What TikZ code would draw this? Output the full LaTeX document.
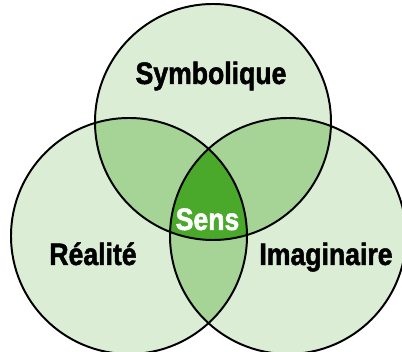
\documentclass[tikz,border=0pt]{standalone}
\usepackage{fontspec}
\setmainfont{Liberation Sans}[FakeStretch=0.88]
\newfontfamily\heavyfont{Liberation Sans}[FakeStretch=0.86, BoldFont={* Bold}, BoldFeatures={FakeBold=1.6}]
\definecolor{pale}{HTML}{DCEDD5}
\definecolor{mid}{HTML}{A6D496}
\definecolor{deep}{HTML}{4AA82A}
\tikzset{
    ring/.style={draw=black, line width=1.4pt},
    word/.style={font=\heavyfont\bfseries\fontsize{22}{24}\selectfont, anchor=base, inner sep=0pt}
}
\begin{document}
\begin{tikzpicture}[x=0.025cm, y=-0.025cm]
    \useasboundingbox (0,0) rectangle (402,352);
    \clip (0,0) rectangle (402,352);
    
    \coordinate (sym) at (213,122);
    \coordinate (rea) at (129,236);
    \coordinate (ima) at (288,236);
    
    \fill[pale] (sym) circle (118);
    \fill[pale] (rea) circle (118);
    \fill[pale] (ima) circle (118);
    
    \begin{scope}
    \clip (sym) circle (118);
    \fill[mid] (rea) circle (118);
    \fill[mid] (ima) circle (118);
    \end{scope}
    
    \begin{scope}
    \clip (rea) circle (118);
    \fill[mid] (ima) circle (118);
    \clip (ima) circle (118);
    \fill[deep] (sym) circle (118);
    \end{scope}
    
    \draw[ring] (sym) circle (118);
    \draw[ring] (rea) circle (118);
    \draw[ring] (ima) circle (118);
    
    \node[word] (symbolique) at (211,84) {Symbolique};
    \node[word] (realite) at (93,265) {Réalité};
    \node[word] (imaginaire) at (326,265) {Imaginaire};
    \node[word, text=white] (sens) at (207.5,230) {Sens};
\end{tikzpicture}
\end{document}
